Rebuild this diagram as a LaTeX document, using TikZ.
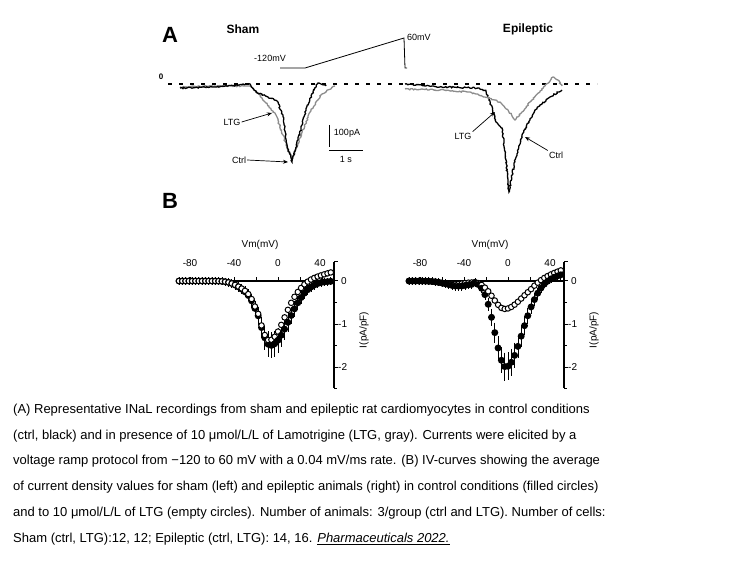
\documentclass[tikz,border=0pt]{standalone}
\usepackage{fontspec}
\setmainfont{Liberation Sans}
\usetikzlibrary{decorations.pathmorphing,arrows.meta}
\begin{document}
\begin{tikzpicture}[x=1pt,y=-1pt,
  trace/.style={line width=1.3pt,decorate,decoration={random steps,segment length=1.5pt,amplitude=0.7pt}},
  ctrl/.style={trace,black},
  ltg/.style={trace,black!45},
  lab/.style={font=\fontsize{9}{10}\selectfont,inner sep=1pt},
  arr/.style={-{Stealth[length=5pt,width=4pt]},line width=0.7pt},
  captxt/.style={anchor=west,font=\fontsize{13}{15}\selectfont,inner sep=0pt},
  ax/.style={line width=1.4pt},
  fdot/.style={circle,fill=black,inner sep=0pt,minimum size=7pt},
  odot/.style={circle,draw=black,fill=white,line width=1pt,inner sep=0pt,minimum size=5.5pt}]
\useasboundingbox[fill=white] (0,0) rectangle (756,567);
% Panel A
\node[font=\bfseries\fontsize{22}{22}\selectfont] (A) at (170,35) {A};
\node[font=\bfseries\fontsize{12}{12}\selectfont] (sham) at (243,29) {Sham};
\node[font=\bfseries\fontsize{12}{12}\selectfont] (epi) at (528,29) {Epileptic};
\node[lab] (m120) at (270,58) {-120mV};
\node[lab,anchor=west] (p60) at (406,37) {60mV};
\draw[line width=0.8pt] (280,68) -- (305,68) -- (404,38) -- (405,68) -- (407,68);
\node[font=\bfseries\fontsize{8}{8}\selectfont] (z) at (161,77) {0};
\draw[line width=2.5pt,dash pattern=on 4pt off 7pt] (168,84) -- (597,84);
% sham traces
\draw[ltg] (180,87)--(215,86)--(250,86)--(258,93)--(266,103)--(276,115)--(283,135)--(289,152)--(293,157)--(300,138)--(310,112)--(322,94)--(335,86);
\draw[ctrl] (180,88)--(215,87)--(250,84)--(256,92)--(268,97)--(277,101)--(283,115)--(287,145)--(292,162)--(298,140)--(306,110)--(313,92)--(318,83)--(326,86);
\node[lab] (ltg1) at (232,122) {LTG};
\draw[arr] (ltg1.east) -- (272,113);
\node[lab] (ctrl1) at (239,160) {Ctrl};
\draw[arr] (ctrl1.east) -- (288,162);
\draw[line width=1pt] (329,125) -- (329,147);
\draw[line width=1pt] (329,151) -- (363,151);
\node[lab] (pa) at (347,133) {100pA};
\node[lab] (sec) at (346,159) {1 s};
% epileptic traces
\draw[ctrl] (405,84)--(440,87)--(478,88)--(486,91)--(491,105)--(496,122)--(502,128)--(506,160)--(509,192)--(514,165)--(522,135)--(535,110)--(550,97)--(562,90);
\draw[ltg] (405,89)--(440,90)--(470,92)--(485,97)--(500,102)--(508,110)--(515,120)--(522,112)--(532,100)--(545,86)--(553,77)--(558,80)--(562,86);
\node[lab] (ltg2) at (463,136) {LTG};
\draw[arr] (ltg2.north east) -- (495,112);
\node[lab] (ctrl2) at (556,155) {Ctrl};
\draw[arr] (ctrl2.north west) -- (525,137);
% Panel B
\node[font=\bfseries\fontsize{22}{22}\selectfont] (B) at (170,201) {B};
\foreach \ox/\nm in {0/l,230/r}{
  \begin{scope}[xshift=\ox pt]
  \draw[ax] (178,281) -- (334,281);
  \draw[ax] (334,262) -- (334,388);
  \foreach \t in {-80,-60,...,40} \draw[line width=1pt] ({278+1.1*\t},281) -- ({278+1.1*\t},277);
  \foreach \t in {0,-1,-2} \draw[line width=1pt] (334,{281-43*\t}) -- (338,{281-43*\t});
  \foreach \t in {-0.5,-1.5,-2.5} \draw[line width=1pt] (334,{281-43*\t}) -- (337,{281-43*\t});
  \draw[line width=1pt] (334,262) -- (338,262);
  \node[lab,font=\fontsize{10}{10}\selectfont] (vm\nm) at (260,245) {Vm(mV)};
  \node[lab,font=\fontsize{10}{10}\selectfont] (t80\nm) at (190,263) {-80};
  \node[lab,font=\fontsize{10}{10}\selectfont] (t40\nm) at (234,263) {-40};
  \node[lab,font=\fontsize{10}{10}\selectfont] (t0\nm) at (278,263) {0};
  \node[lab,font=\fontsize{10}{10}\selectfont] (t4\nm) at (320,263) {40};
  \node[lab,font=\fontsize{10}{10}\selectfont,anchor=west] (y0\nm) at (340,281) {0};
  \node[lab,font=\fontsize{10}{10}\selectfont,anchor=west] (y1\nm) at (337,324) {-1};
  \node[lab,font=\fontsize{10}{10}\selectfont,anchor=west] (y2\nm) at (337,367) {-2};
  \node[lab,font=\fontsize{10}{10}\selectfont,rotate=90] (il\nm) at (364,330) {I(pA/pF)};
  \end{scope}}
\foreach \v in {-90,-87,...,48}{
  \pgfmathsetmacro\ia{-1.5*((\v<-7)*exp(-((\v+7)/14)^2)+(\v>=-7)*exp(-((\v+7)/24)^2)) -0.15*(\v<-20)*exp(-((\v+30)/12)^2)}
  \pgfmathsetmacro\ib{-1.38*((\v<-8)*exp(-((\v+8)/13)^2)+(\v>=-8)*exp(-((\v+8)/20)^2)) -0.15*(\v<-20)*exp(-((\v+30)/12)^2) + 0.2*(\v>20)*(\v-20)/28}
  \pgfmathsetmacro\ic{-2.0*((\v<-2)*exp(-((\v+2)/14)^2)+(\v>=-2)*exp(-((\v+2)/21)^2)) -0.12*(\v<-30)*exp(-((\v+45)/15)^2) + 0.15*(\v>25)*(\v-25)/23}
  \pgfmathsetmacro\id{-0.65*((\v<-3)*exp(-((\v+3)/15)^2)+(\v>=-3)*exp(-((\v+3)/22)^2)) -0.08*(\v<-30)*exp(-((\v+50)/15)^2) + 0.25*(\v>20)*(\v-20)/28}
  \pgfmathsetmacro\e{4+6*abs(\ia)}
  \draw[line width=0.7pt] ({278+1.1*\v},{281-43*\ia-\e}) -- ({278+1.1*\v},{281-43*\ia+\e});
  \node[fdot] at ({278+1.1*\v},{281-43*\ia}) {};
  \node[odot] at ({278+1.1*\v},{281-43*\ib}) {};
  \pgfmathsetmacro\e{4+5*abs(\ic)}
  \draw[line width=0.7pt] ({508+1.1*\v},{281-43*\ic-\e}) -- ({508+1.1*\v},{281-43*\ic+\e});
  \node[odot] at ({508+1.1*\v},{281-43*\id}) {};
  \node[fdot] at ({508+1.1*\v},{281-43*\ic}) {};
}
% caption
\node[captxt] (c1) at (13,410) {(A) Representative INaL recordings from sham and epileptic rat cardiomyocytes in control conditions};
\node[captxt] (c2) at (13,436) {(ctrl, black) and in presence of 10 μmol/L/L of Lamotrigine (LTG, gray). Currents were elicited by a};
\node[captxt] (c3) at (13,461) {voltage ramp protocol from −120 to 60 mV with a 0.04 mV/ms rate. (B) IV-curves showing the average};
\node[captxt] (c4) at (13,487) {of current density values for sham (left) and epileptic animals (right) in control conditions (filled circles)};
\node[captxt] (c5) at (13,513) {and to 10 μmol/L/L of LTG (empty circles). Number of animals: 3/group (ctrl and LTG). Number of cells:};
\node[captxt] (c6) at (13,539) {Sham (ctrl, LTG):12, 12; Epileptic (ctrl, LTG): 14, 16. \underline{\textit{Pharmaceuticals 2022.}}};
\end{tikzpicture}
\end{document}
